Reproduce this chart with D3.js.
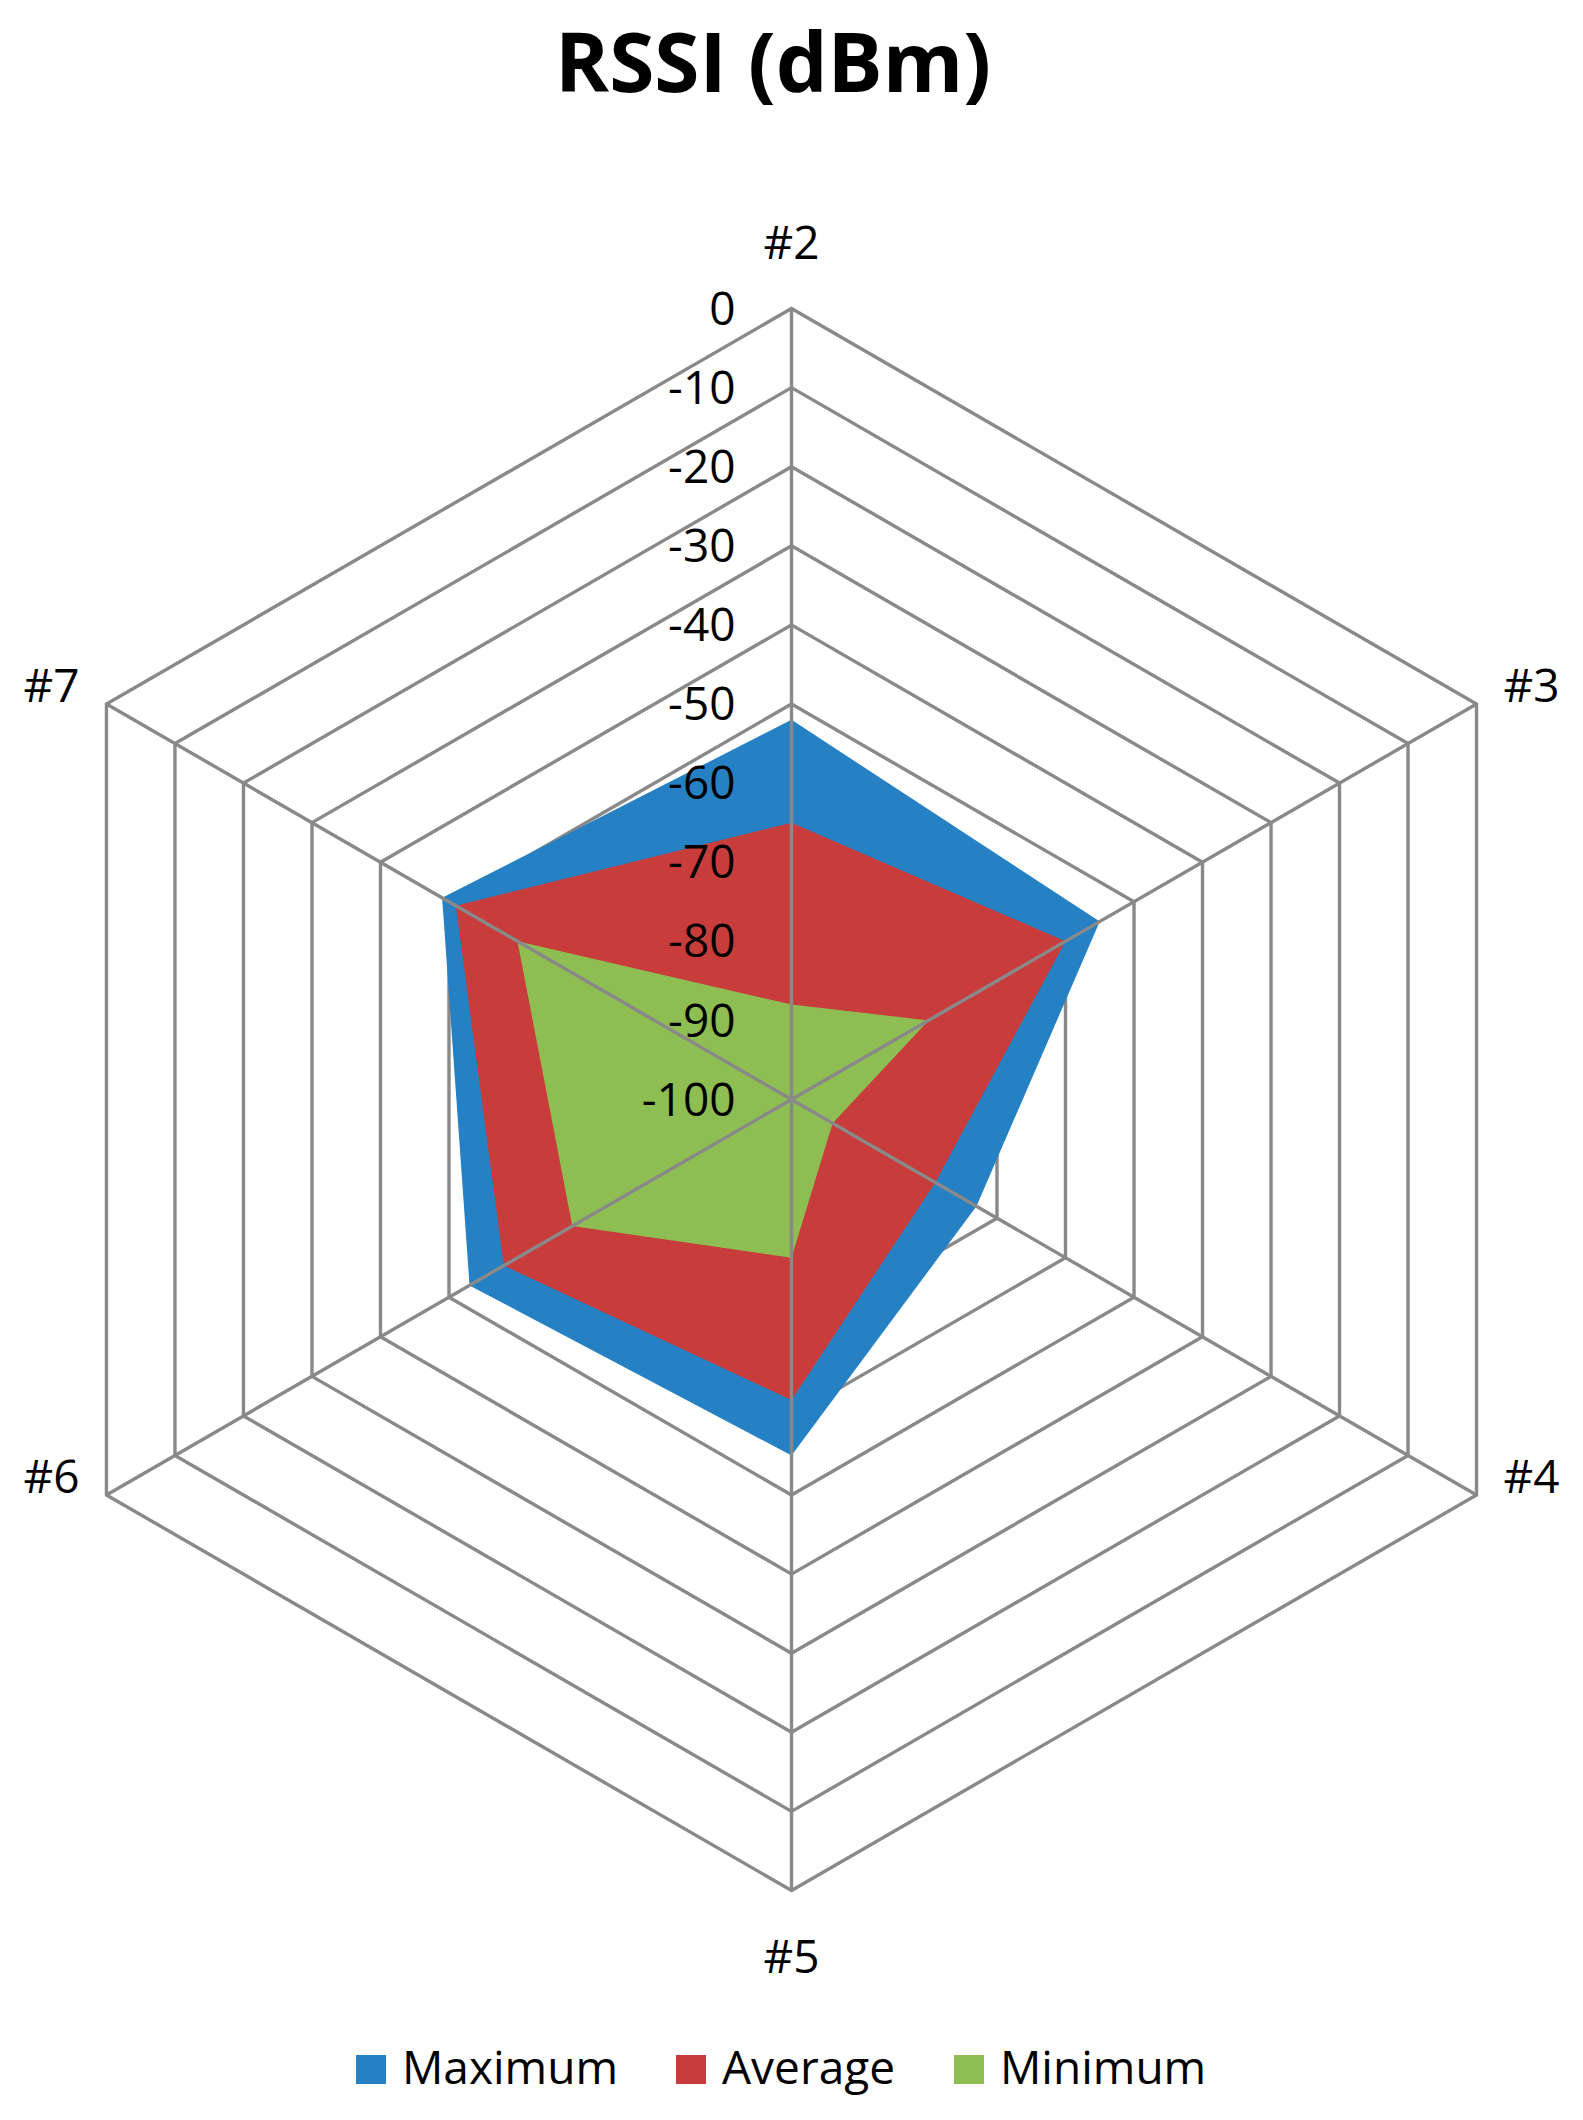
<!DOCTYPE html>
<html>
<head>
<meta charset="utf-8">
<script src="https://cdn.jsdelivr.net/npm/d3@7"></script>
<style>
  body { margin: 0; background: #fff; }
  svg text { font-family: "Open Sans", sans-serif; fill: #000; }
</style>
</head>
<body>
<div id="chart"></div>
<script>
// chart data
var axes = ["#2", "#3", "#4", "#5", "#6", "#7"];
var seriesNames = ["Maximum", "Average", "Minimum"];
var maximum = [-52, -55, -73, -55, -53, -49];
var average = [-65, -60, -79, -62, -58, -51];
var minimum = [-88, -80, -94, -80, -68, -60];
var tickValues = [0, -10, -20, -30, -40, -50, -60, -70, -80, -90, -100];
var colors = ["#2581c3", "#c83d3c", "#8ebe51"];

var svgWidth = 1583;
var svgHeight = 2120;
var cx = 791.5, cy = 1099.5, radius = 791;

var svg = d3.select("#chart")
  .append("svg")
  .attr("width", svgWidth)
  .attr("height", svgHeight);

// title
svg.append("text")
  .attr("x", 773)
  .attr("y", 92)
  .attr("text-anchor", "middle")
  .attr("font-size", "82px")
  .attr("font-weight", "bold")
  .text("RSSI (dBm)");

var chartGroup = svg.append("g")
  .attr("transform", `translate(${cx}, ${cy})`);

var rScale = d3.scaleLinear().domain([-100, 0]).range([0, radius]);
var angle = i => i * 2 * Math.PI / axes.length;

var radarLine = d3.lineRadial()
  .angle((d, i) => angle(i))
  .radius(d => rScale(d))
  .curve(d3.curveLinearClosed);

// rings (behind the series)
var ringLevels = tickValues.filter(v => v > -100);
chartGroup.selectAll(".ring")
  .data(ringLevels)
  .enter()
  .append("path")
  .attr("class", "ring")
  .attr("d", v => radarLine(axes.map(() => v)))
  .attr("fill", "none")
  .attr("stroke", "#898989")
  .attr("stroke-width", 3.4);

// filled series, maximum first so minimum sits on top
var series = [maximum, average, minimum];
chartGroup.selectAll(".area")
  .data(series)
  .enter()
  .append("path")
  .attr("class", "area")
  .attr("d", d => radarLine(d))
  .attr("fill", (d, i) => colors[i]);

// spokes on top
chartGroup.selectAll(".spoke")
  .data(axes)
  .enter()
  .append("line")
  .attr("class", "spoke")
  .attr("x1", 0)
  .attr("y1", 0)
  .attr("x2", (d, i) => rScale(0) * Math.sin(angle(i)))
  .attr("y2", (d, i) => -rScale(0) * Math.cos(angle(i)))
  .attr("stroke", "#898989")
  .attr("stroke-width", 3.4);

// value labels along the #2 axis
chartGroup.selectAll(".tick")
  .data(tickValues)
  .enter()
  .append("text")
  .attr("class", "tick")
  .attr("x", -56)
  .attr("y", d => -rScale(d))
  .attr("dy", "0.35em")
  .attr("text-anchor", "end")
  .attr("font-size", "46px")
  .text(d => d);

// category labels
chartGroup.selectAll(".axisLabel")
  .data(axes)
  .enter()
  .append("text")
  .attr("class", "axisLabel")
  .attr("x", (d, i) => {
    var s = Math.sin(angle(i));
    var x = rScale(0) * s;
    return Math.abs(s) < 0.01 ? x : x + (s > 0 ? 55 : -55);
  })
  .attr("y", (d, i) => {
    var c = Math.cos(angle(i));
    var y = -rScale(0) * c;
    if (Math.abs(Math.sin(angle(i))) < 0.01) return y + (c > 0 ? -66 : 66);
    return y - 18;
  })
  .attr("dy", "0.35em")
  .attr("text-anchor", "middle")
  .attr("font-size", "46px")
  .text(d => d);

// legend
var legendX = [356, 676, 954];
var legend = svg.selectAll(".legendItem")
  .data(seriesNames)
  .enter()
  .append("g")
  .attr("class", "legendItem")
  .attr("transform", (d, i) => `translate(${legendX[i]}, 2055)`);

legend.append("rect")
  .attr("width", 30)
  .attr("height", 29)
  .attr("fill", (d, i) => colors[i]);

legend.append("text")
  .attr("x", 46)
  .attr("y", 29)
  .attr("font-size", "46px")
  .text(d => d);
</script>
</body>
</html>
